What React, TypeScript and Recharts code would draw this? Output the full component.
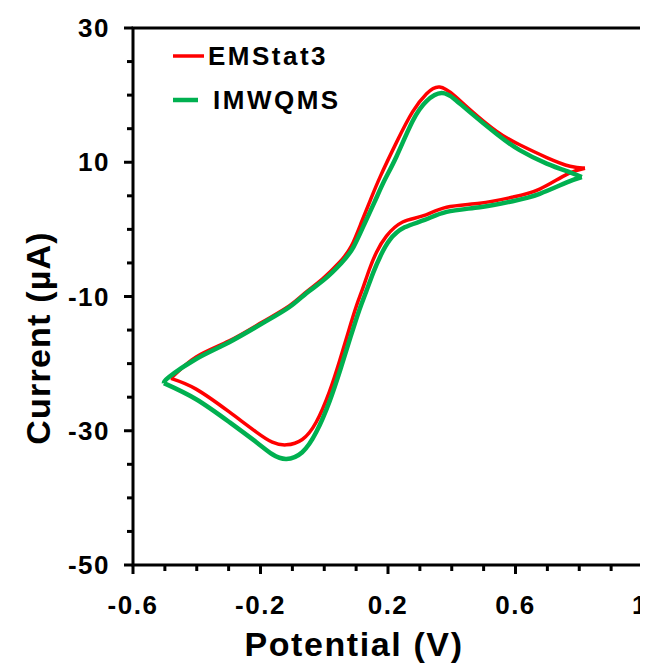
import React from 'react';
import { LineChart, Line, XAxis, YAxis, ReferenceArea, Legend, Label } from 'recharts';

// EMStat3: forward sweep (left end -> right end) and reverse sweep back
const emstatFwdV = [-0.481, -0.402, -0.298, -0.213, -0.163, -0.119, -0.069, -0.025, 0.016, 0.048, 0.076, 0.101, 0.12, 0.142, 0.164, 0.195, 0.246, 0.309, 0.384, 0.488, 0.591, 0.676, 0.761, 0.818];
const emstatFwdI = [-22.2, -23.8, -27.2, -30.2, -31.7, -32.1, -31.3, -28.7, -24.2, -19.6, -15.2, -11.4, -8.9, -5.9, -3.4, -1.0, 1.1, 2.0, 3.3, 3.9, 4.8, 6.0, 8.2, 9.1];
const emstatRevV = [0.818, 0.771, 0.698, 0.613, 0.541, 0.456, 0.409, 0.362, 0.321, 0.277, 0.227, 0.176, 0.145, 0.117, 0.085, 0.048, -0.006, -0.056, -0.11, -0.194, -0.298, -0.402, -0.481];
const emstatRevI = [9.1, 9.4, 10.7, 12.6, 14.6, 17.9, 19.9, 21.2, 20.2, 17.5, 13.0, 7.9, 4.4, 1.1, -2.5, -4.9, -7.4, -9.3, -11.4, -13.8, -16.6, -19.0, -22.2];

// IMWQMS
const imwqmsFwdV = [-0.503, -0.402, -0.298, -0.213, -0.163, -0.119, -0.069, -0.025, 0.016, 0.051, 0.082, 0.11, 0.132, 0.154, 0.176, 0.205, 0.252, 0.315, 0.384, 0.488, 0.591, 0.676, 0.761, 0.808];
const imwqmsFwdI = [-22.9, -25.3, -28.7, -31.7, -33.5, -34.2, -33.2, -30.2, -25.7, -20.8, -16.1, -12.0, -9.2, -6.4, -4.0, -1.6, 0.3, 1.4, 2.6, 3.3, 4.2, 5.3, 7.0, 7.8];
const imwqmsRevV = [0.808, 0.771, 0.698, 0.613, 0.541, 0.456, 0.409, 0.368, 0.321, 0.277, 0.227, 0.189, 0.158, 0.126, 0.092, 0.054, -0.003, -0.056, -0.11, -0.194, -0.298, -0.402, -0.487, -0.503];
const imwqmsRevI = [7.8, 8.5, 9.8, 11.8, 14.2, 17.5, 19.4, 20.3, 19.1, 16.1, 10.9, 7.3, 4.1, 0.8, -2.6, -5.0, -7.6, -9.5, -11.6, -14.0, -16.8, -19.3, -22.0, -22.9];

const seriesNames = ['EMStat3', 'IMWQMS'];
const seriesColors = ['#FF0000', '#00B050'];

const xTicks = [-0.6, -0.5, -0.4, -0.3, -0.2, -0.1, 0, 0.1, 0.2, 0.3, 0.4, 0.5, 0.6, 0.7, 0.8, 0.9, 1];
const yTicks = [-50, -45, -40, -35, -30, -25, -20, -15, -10, -5, 0, 5, 10, 15, 20, 25, 30];

const FONT = '"Liberation Sans", Arial, Helvetica, sans-serif';

const rows = (v: number[], i: number[]) => v.map((p, k) => ({ v: p, i: i[k] }));

const XTick = (props: any) => {
  const { x, y, payload } = props;
  const val = payload.value as number;
  const major = Math.round((val + 0.6) * 10) % 4 === 0;
  const last = val === 1;
  return (
    <g>
      <line x1={x} y1={y} x2={x} y2={y + (major ? 9 : 6)} stroke="#000" strokeWidth={3} />
      {major && (
        <text
          x={last ? 648 : x}
          y={y + 49}
          textAnchor={last ? 'end' : 'middle'}
          fontFamily={FONT}
          fontWeight="bold"
          fontSize={26}
          letterSpacing={1.5}
          fill="#000"
        >
          {last ? '1' : val.toFixed(1)}
        </text>
      )}
    </g>
  );
};

const YTick = (props: any) => {
  const { x, y, payload } = props;
  const val = payload.value as number;
  const major = (30 - val) % 20 === 0;
  return (
    <g>
      <line x1={x} y1={y} x2={x - (major ? 9 : 6)} y2={y} stroke="#000" strokeWidth={3} />
      {major && (
        <text x={x - 23} y={y + 9} textAnchor="end" fontFamily={FONT} fontWeight="bold" fontSize={26} letterSpacing={1.5} fill="#000">
          {val}
        </text>
      )}
    </g>
  );
};

const LegendBox = () => (
  <div style={{ position: 'relative', width: 200, height: 90, fontFamily: FONT, fontWeight: 'bold', fontSize: 26, letterSpacing: 2.5, color: '#000' }}>
    {seriesNames.map((name, k) => (
      <div key={name} style={{ position: 'absolute', left: 0, top: k * 44, height: 32, lineHeight: '32px', whiteSpace: 'nowrap' }}>
        <svg width={40} height={32} style={{ position: 'absolute', left: 0, top: 0 }}>
          <line x1={3} y1={16} x2={k === 0 ? 34 : 28} y2={16} stroke={seriesColors[k]} strokeWidth={k === 0 ? 3.5 : 4.5} />
        </svg>
        <span style={{ position: 'absolute', left: k === 0 ? 38 : 43, top: 0 }}>{name}</span>
      </div>
    ))}
  </div>
);

export default function App() {
  return (
    <div style={{ width: 648, height: 664, margin: '-8px 0 0 -8px', background: '#fff' }}>
      <LineChart width={648} height={664} margin={{ top: 28, right: 5, left: 0, bottom: 0 }}>
        <XAxis
          dataKey="v"
          type="number"
          domain={[-0.6, 1]}
          ticks={xTicks}
          interval={0}
          allowDataOverflow
          axisLine={false}
          tickLine={false}
          tickSize={0}
          tickMargin={0}
          height={99}
          tick={<XTick />}
        >
          <Label
            content={() => (
              <text x={354} y={656} textAnchor="middle" fontFamily={FONT} fontWeight="bold" fontSize={34} letterSpacing={1.6} fill="#000">
                Potential (V)
              </text>
            )}
          />
        </XAxis>
        <YAxis
          dataKey="i"
          type="number"
          domain={[-50, 30]}
          ticks={yTicks}
          interval={0}
          allowDataOverflow
          axisLine={false}
          tickLine={false}
          tickSize={0}
          tickMargin={0}
          width={133}
          tick={<YTick />}
        >
          <Label
            content={() => (
              <text x={50} y={338} transform="rotate(-90 50 338)" textAnchor="middle" fontFamily={FONT} fontWeight="bold" fontSize={34} letterSpacing={1.2} fill="#000">
                Current (µA)
              </text>
            )}
          />
        </YAxis>
        <ReferenceArea x1={-0.6} x2={1} y1={-50} y2={30} fill="none" stroke="#000" strokeWidth={3} ifOverflow="visible" />
        <Line data={rows(emstatFwdV, emstatFwdI)} dataKey="i" type="natural" stroke={seriesColors[0]} strokeWidth={3.5} dot={false} legendType="none" isAnimationActive={false} />
        <Line data={rows(emstatRevV, emstatRevI)} dataKey="i" type="natural" stroke={seriesColors[0]} strokeWidth={3.5} dot={false} legendType="none" isAnimationActive={false} />
        <Line data={rows(imwqmsFwdV, imwqmsFwdI)} dataKey="i" type="natural" stroke={seriesColors[1]} strokeWidth={4.5} dot={false} legendType="none" isAnimationActive={false} />
        <Line data={rows(imwqmsRevV, imwqmsRevI)} dataKey="i" type="natural" stroke={seriesColors[1]} strokeWidth={4.5} dot={false} legendType="none" isAnimationActive={false} />
        <Legend
          layout="vertical"
          align="center"
          verticalAlign="middle"
          content={() => <LegendBox />}
          wrapperStyle={{ top: 40, left: 170, width: 200, height: 90 }}
        />
      </LineChart>
    </div>
  );
}
